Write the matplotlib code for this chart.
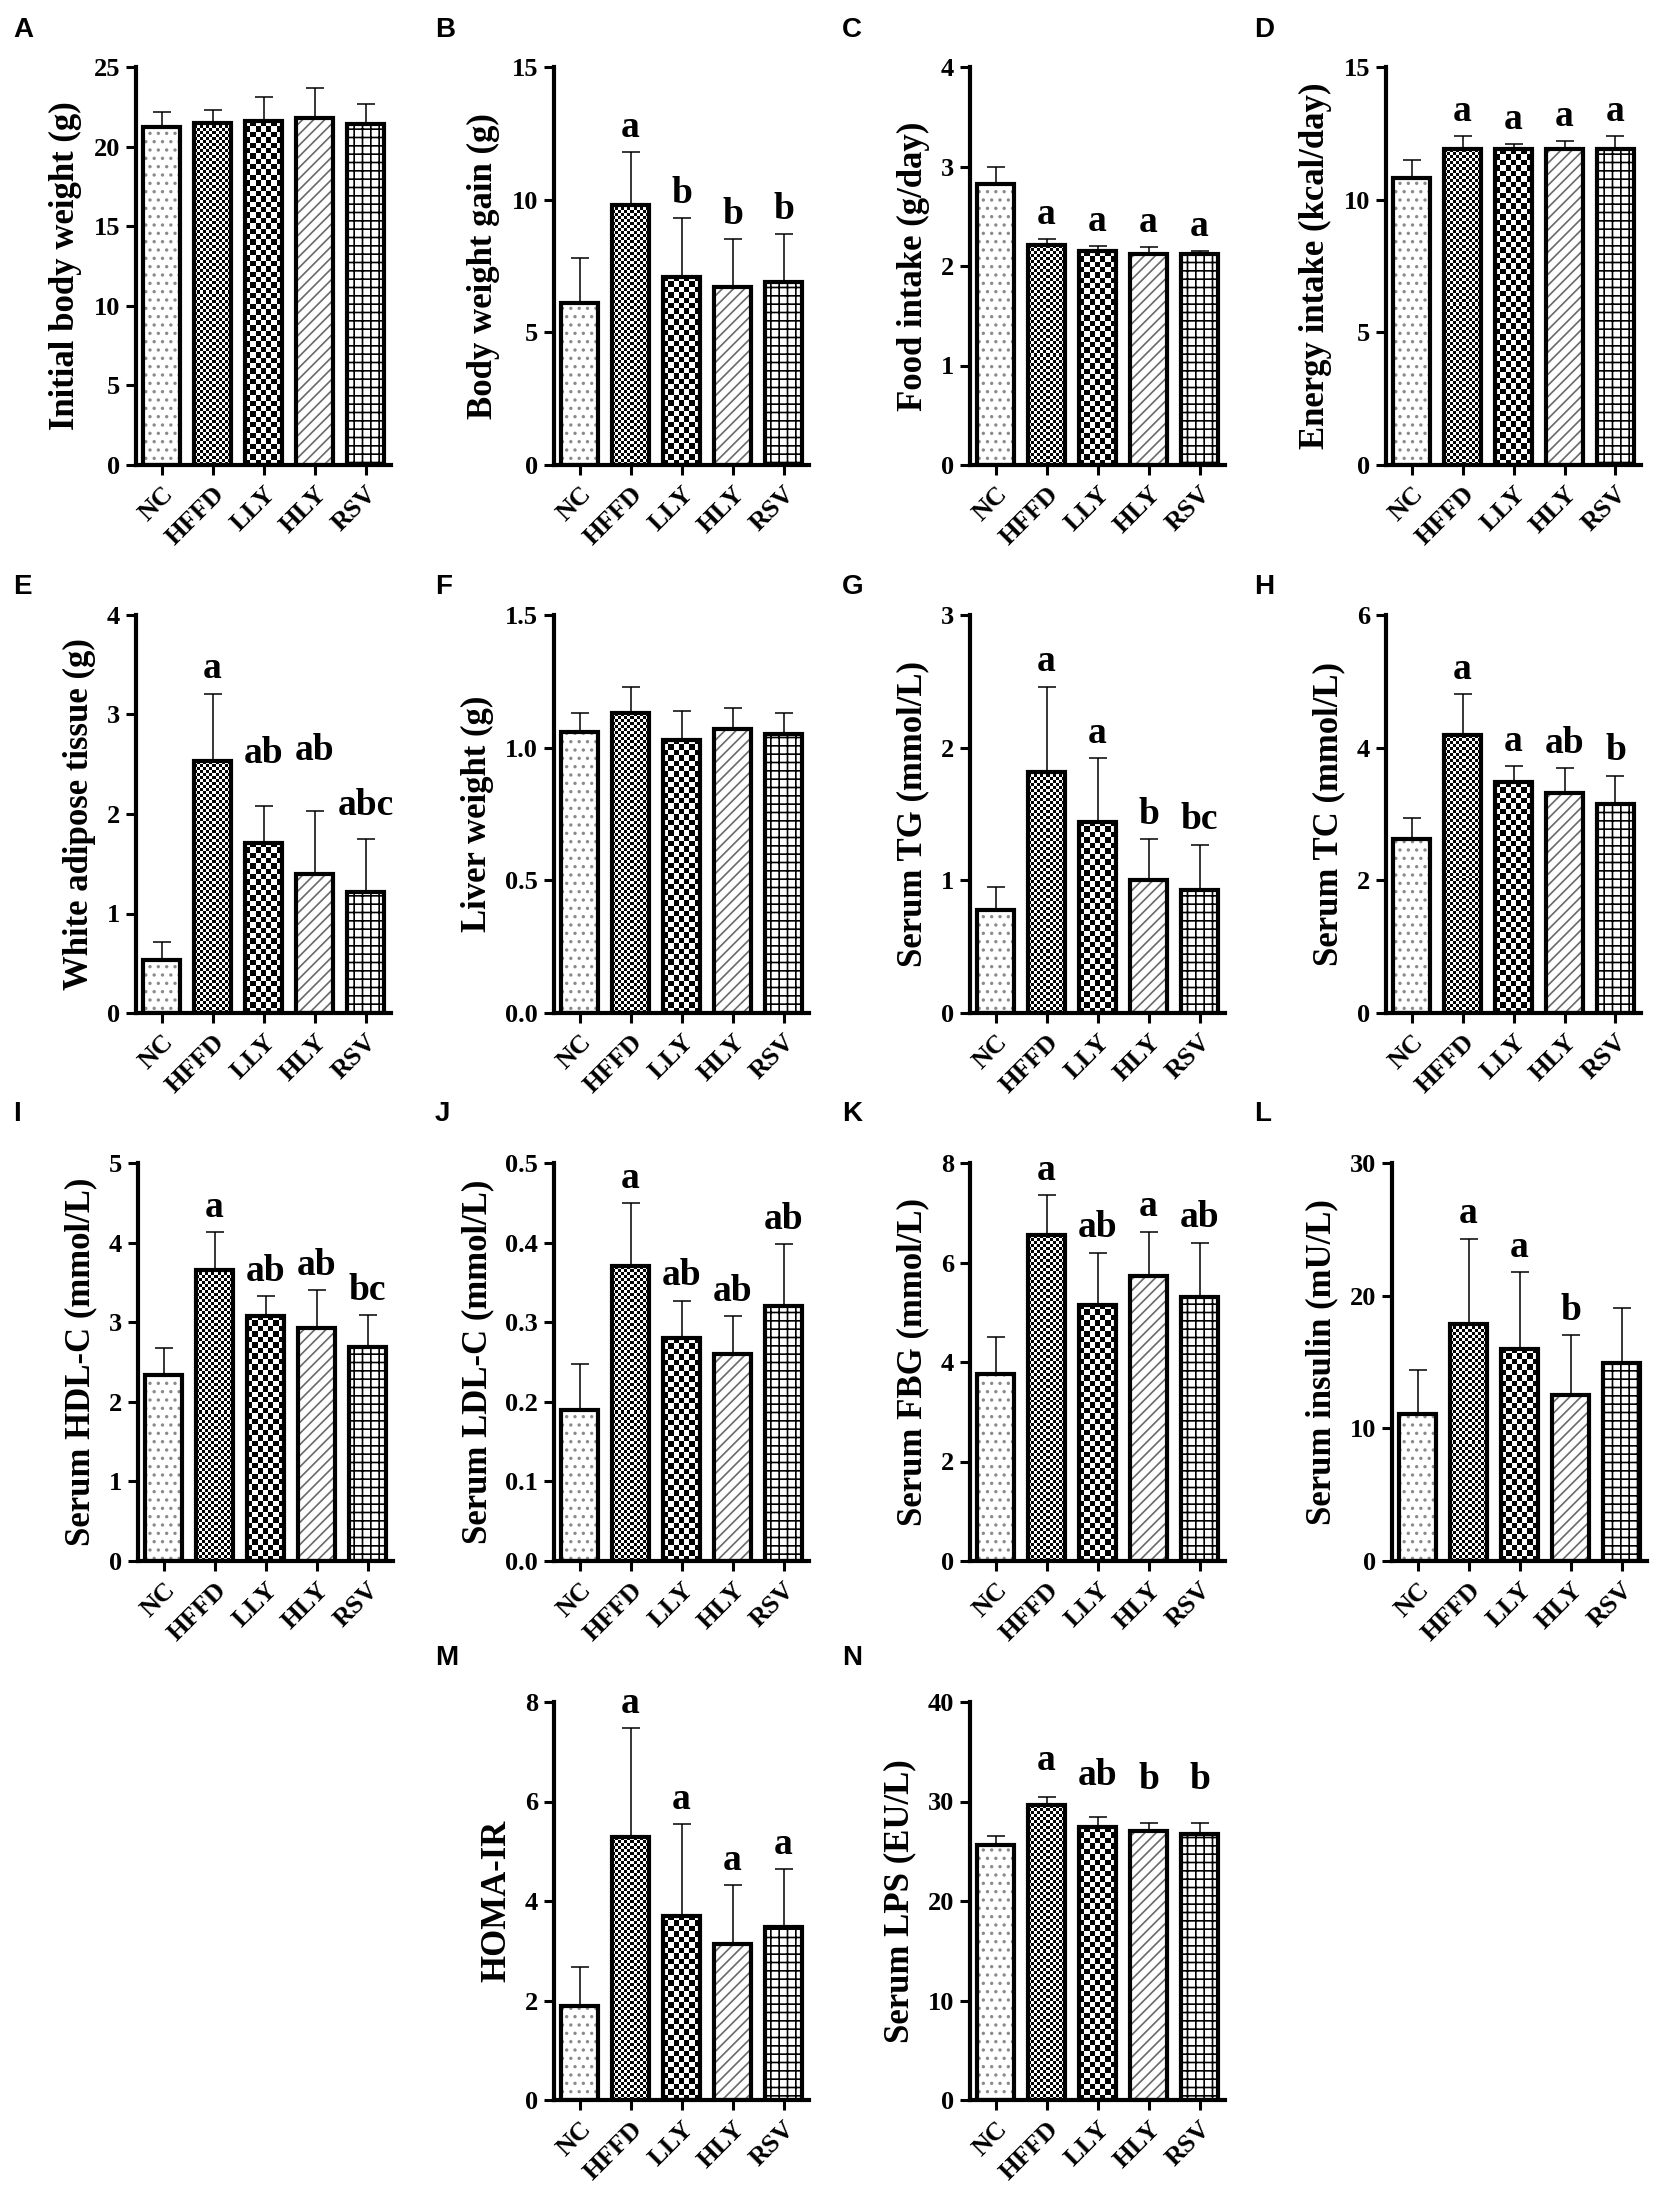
import numpy as np
import matplotlib.pyplot as plt

plt.rcParams['font.family'] = 'Liberation Serif'
plt.rcParams['font.weight'] = 'bold'
plt.rcParams['hatch.linewidth'] = 1.2

groups = ['NC', 'HFFD', 'LLY', 'HLY', 'RSV']

# means and SD
initial_bw = [21.2, 21.5, 21.6, 21.8, 21.4]
initial_bw_sd = [1.0, 0.8, 1.5, 1.9, 1.3]
bw_gain = [6.1, 9.8, 7.1, 6.7, 6.9]
bw_gain_sd = [1.7, 2.0, 2.2, 1.8, 1.8]
food = [2.82, 2.21, 2.15, 2.12, 2.12]
food_sd = [0.17, 0.06, 0.05, 0.07, 0.03]
energy = [10.8, 11.9, 11.9, 11.9, 11.9]
energy_sd = [0.7, 0.5, 0.2, 0.3, 0.5]
wat = [0.53, 2.53, 1.71, 1.40, 1.22]
wat_sd = [0.18, 0.68, 0.37, 0.63, 0.53]
liver = [1.06, 1.13, 1.03, 1.07, 1.05]
liver_sd = [0.07, 0.10, 0.11, 0.08, 0.08]
tg = [0.78, 1.82, 1.44, 1.00, 0.93]
tg_sd = [0.17, 0.64, 0.48, 0.31, 0.34]
tc = [2.62, 4.19, 3.48, 3.31, 3.15]
tc_sd = [0.32, 0.62, 0.24, 0.38, 0.43]
hdl = [2.34, 3.66, 3.08, 2.93, 2.69]
hdl_sd = [0.34, 0.47, 0.25, 0.47, 0.40]
ldl = [0.19, 0.37, 0.28, 0.26, 0.32]
ldl_sd = [0.057, 0.08, 0.047, 0.048, 0.078]
fbg = [3.75, 6.55, 5.15, 5.72, 5.30]
fbg_sd = [0.75, 0.80, 1.05, 0.90, 1.10]
insulin = [11.1, 17.9, 16.0, 12.5, 14.9]
insulin_sd = [3.3, 6.4, 5.8, 4.5, 4.2]
homa = [1.88, 5.28, 3.70, 3.14, 3.47]
homa_sd = [0.80, 2.20, 1.85, 1.18, 1.17]
lps = [25.6, 29.6, 27.4, 27.0, 26.7]
lps_sd = [0.9, 0.9, 1.0, 0.8, 1.1]

# significance letters
sig_b = ['', 'a', 'b', 'b', 'b']
sig_c = ['', 'a', 'a', 'a', 'a']
sig_d = ['', 'a', 'a', 'a', 'a']
sig_e = ['', 'a', 'ab', 'ab', 'abc']
sig_g = ['', 'a', 'a', 'b', 'bc']
sig_h = ['', 'a', 'a', 'ab', 'b']
sig_i = ['', 'a', 'ab', 'ab', 'bc']
sig_j = ['', 'a', 'ab', 'ab', 'ab']
sig_k = ['', 'a', 'ab', 'a', 'ab']
sig_l = ['', 'a', 'a', 'b', '']
sig_m = ['', 'a', 'a', 'a', 'a']
sig_n = ['', 'a', 'ab', 'b', 'b']
no_sig = [''] * 5

FIG_W, FIG_H = 1654, 2196
AX_W, AX_H = 255, 398
BAR_W = 0.72

# (letter, values, sd, ylabel, ticks, tick fmt, letters, axes left px, axes top px, letter x, letter y)
panels = [
    ('A', initial_bw, initial_bw_sd, 'Initial body weight (g)', [0, 5, 10, 15, 20, 25], '{:g}', no_sig, 136, 67, 13, 17),
    ('B', bw_gain, bw_gain_sd, 'Body weight gain (g)', [0, 5, 10, 15], '{:g}', sig_b, 554, 67, 435, 17),
    ('C', food, food_sd, 'Food intake (g/day)', [0, 1, 2, 3, 4], '{:g}', sig_c, 970, 67, 842, 17),
    ('D', energy, energy_sd, 'Energy intake (kcal/day)', [0, 5, 10, 15], '{:g}', sig_d, 1386, 67, 1254, 17),
    ('E', wat, wat_sd, 'White adipose tissue (g)', [0, 1, 2, 3, 4], '{:g}', sig_e, 136, 615, 13, 574),
    ('F', liver, liver_sd, 'Liver weight (g)', [0, 0.5, 1.0, 1.5], '{:.1f}', no_sig, 554, 615, 435, 574),
    ('G', tg, tg_sd, 'Serum TG (mmol/L)', [0, 1, 2, 3], '{:g}', sig_g, 970, 615, 842, 574),
    ('H', tc, tc_sd, 'Serum TC (mmol/L)', [0, 2, 4, 6], '{:g}', sig_h, 1386, 615, 1254, 574),
    ('I', hdl, hdl_sd, 'Serum HDL-C (mmol/L)', [0, 1, 2, 3, 4, 5], '{:g}', sig_i, 138, 1163, 13, 1101),
    ('J', ldl, ldl_sd, 'Serum LDL-C (mmol/L)', [0, 0.1, 0.2, 0.3, 0.4, 0.5], '{:.1f}', sig_j, 554, 1163, 435, 1101),
    ('K', fbg, fbg_sd, 'Serum FBG (mmol/L)', [0, 2, 4, 6, 8], '{:g}', sig_k, 970, 1163, 842, 1101),
    ('L', insulin, insulin_sd, 'Serum insulin (mU/L)', [0, 10, 20, 30], '{:g}', sig_l, 1392, 1163, 1254, 1101),
    ('M', homa, homa_sd, 'HOMA-IR', [0, 2, 4, 6, 8], '{:g}', sig_m, 554, 1702, 435, 1645),
    ('N', lps, lps_sd, 'Serum LPS (EU/L)', [0, 10, 20, 30, 40], '{:g}', sig_n, 970, 1702, 842, 1645),
]

# extra lift (points) for letters that sit higher than the others
extra_lift = {'E': [0, 0, 20, 26, 6], 'N': [0, 8, 12, 14, 14]}

hatch_style = {0: ('..', '#8a8a8a'), 3: ('///', '#6a6a6a'), 4: ('++', 'black')}
checker_size = {1: 3.0, 2: 5.4}


def draw_checker(ax, x, h, ymax, sq):
    w_px = BAR_W * AX_W / 5
    h_px = h / ymax * AX_H
    nc = max(1, int(round(w_px / sq)))
    nr = max(1, int(round(h_px / sq)))
    arr = np.add.outer(np.arange(nr), np.arange(nc)) % 2
    ax.imshow(arr, cmap='gray', extent=(x - BAR_W / 2, x + BAR_W / 2, 0, h),
              aspect='auto', interpolation='nearest', origin='lower', zorder=1)


fig = plt.figure(figsize=(FIG_W / 100, FIG_H / 100), dpi=100)

for (tag, vals, sds, ylab, ticks, fmt, sig, left, top, lx, ly) in panels:
    ax = fig.add_axes([left / FIG_W, 1 - (top + AX_H) / FIG_H, AX_W / FIG_W, AX_H / FIG_H])
    x = np.arange(len(groups))
    ymax = ticks[-1]
    for i in range(len(groups)):
        if i in hatch_style:
            hp, hc = hatch_style[i]
            ax.bar(x[i], vals[i], BAR_W, color='white', edgecolor=hc, hatch=hp,
                   linewidth=0, zorder=1)
        else:
            draw_checker(ax, x[i], vals[i], ymax, checker_size[i])
    ax.errorbar(x, vals, yerr=[np.zeros(len(vals)), sds], fmt='none', ecolor='black',
                elinewidth=1.1, capsize=6.5, capthick=1.1, zorder=2)
    ax.bar(x, vals, BAR_W, fill=False, edgecolor='black', linewidth=3.0, zorder=3)

    lift = extra_lift.get(tag, [0] * 5)
    for i, s in enumerate(sig):
        if s:
            ax.annotate(s, (x[i], vals[i] + sds[i]), xytext=(0, 11 + lift[i]),
                        textcoords='offset points', ha='center', va='baseline',
                        fontsize=27, fontweight='bold', annotation_clip=False)

    ax.set_xlim(-0.5, 4.5)
    ax.set_ylim(0, ymax)
    ax.set_yticks(ticks, labels=[fmt.format(t) for t in ticks])
    ax.set_xticks(x, labels=groups, rotation=45, ha='right', rotation_mode='anchor')
    ax.tick_params(axis='both', direction='out', length=7.5, width=2.2, labelsize=19, pad=4)
    ax.tick_params(axis='x', labelsize=19, pad=5)
    for sp in ['top', 'right']:
        ax.spines[sp].set_visible(False)
    for sp in ['left', 'bottom']:
        ax.spines[sp].set_linewidth(3.0)
    ax.set_ylabel(ylab, fontsize=25, fontweight='bold', labelpad=8)

    fig.text(lx / FIG_W, 1 - ly / FIG_H, tag, ha='left', va='top',
             family='Liberation Sans', fontweight='bold', fontsize=20)

fig.savefig('out.png', dpi=100, facecolor='white')
